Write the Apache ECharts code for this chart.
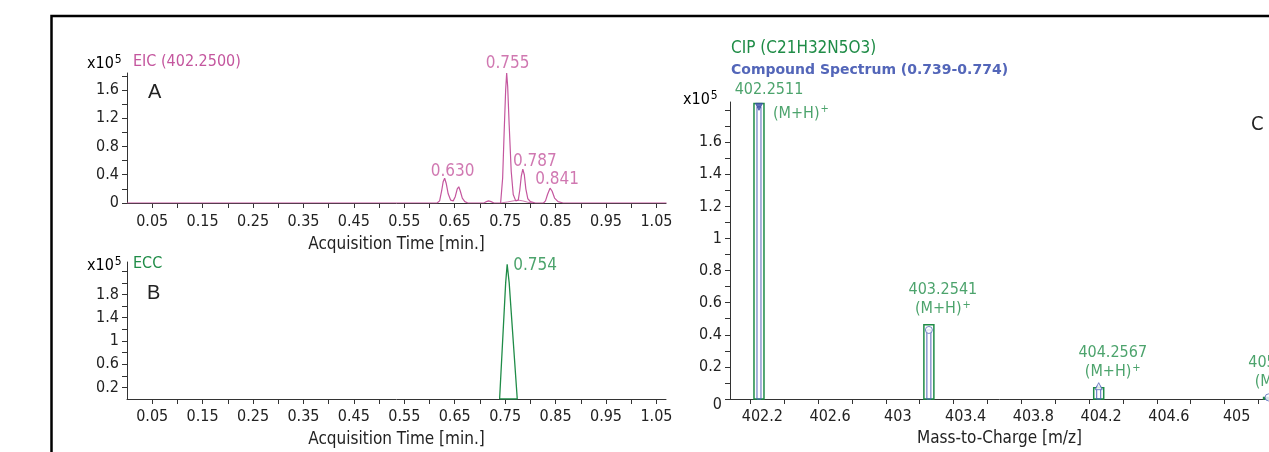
<!DOCTYPE html>
<html>
<head>
<meta charset="utf-8">
<title>EIC / ECC / compound spectrum</title>
<script src="https://cdn.jsdelivr.net/npm/echarts@6/dist/echarts.min.js"></script>
<style>
  html, body { margin: 0; padding: 0; background: #fff; }
  #chart { width: 1269px; height: 452px; }
</style>
</head>
<body>
<div id="chart"></div>
<script>
// ---- panel A : EIC (402.2500), counts x10^5
var eicTime = [0, 0.615, 0.620, 0.624, 0.627, 0.630, 0.633, 0.637, 0.642, 0.647, 0.651, 0.655, 0.658, 0.661, 0.665, 0.670, 0.676,
  0.708, 0.713, 0.717, 0.722, 0.728, 0.741, 0.745, 0.748, 0.751, 0.753, 0.755, 0.758, 0.762, 0.766, 0.771,
  0.776, 0.779, 0.782, 0.785, 0.788, 0.791, 0.795, 0.800, 0.810, 0.826, 0.830, 0.834, 0.839, 0.843, 0.848, 0.855, 0.865, 1.07];
var eicCounts = [0, 0, 0.03, 0.17, 0.30, 0.35, 0.28, 0.13, 0.04, 0.03, 0.09, 0.20, 0.23, 0.17, 0.07, 0.02, 0,
  0, 0.02, 0.03, 0.02, 0, 0, 0.35, 1.0, 1.6, 1.84, 1.65, 1.1, 0.45, 0.12, 0.03,
  0.04, 0.18, 0.38, 0.48, 0.40, 0.20, 0.06, 0.02, 0, 0, 0.03, 0.12, 0.21, 0.17, 0.07, 0.02, 0, 0];
// low broad trace under the 0.787 peak
var humpTime = [0.741, 0.755, 0.770, 0.777, 0.785, 0.795, 0.805];
var humpCounts = [0, 0.015, 0.035, 0.04, 0.03, 0.01, 0];
var eicPeakTime = [0.630, 0.753, 0.785, 0.839];
var eicPeakCounts = [0.35, 1.84, 0.48, 0.21];
var eicPeakText = ['0.630', '0.755', '0.787', '0.841'];

// ---- panel B : ECC
var eccTime = [0.739, 0.751, 0.754, 0.758, 0.774, 0.739];
var eccCounts = [0, 2.0, 2.32, 2.0, 0, 0];
var eccPeakText = '0.754';

// ---- panel C : CIP (theoretical) vs compound spectrum
var cipMz = [402.2511, 403.2541, 404.2567, 405.2595];
var cipAbund = [1.84, 0.463, 0.07, 0.01];
var specAbund = [1.82, 0.43, 0.08, 0.01];
var cipMassText = ['402.2511', '403.2541', '404.2567', '405.2595'];

// ---- ticks / labels
var timeTicks = [0.05, 0.1, 0.15, 0.2, 0.25, 0.3, 0.35, 0.4, 0.45, 0.5, 0.55, 0.6, 0.65, 0.7, 0.75, 0.8, 0.85, 0.9, 0.95, 1, 1.05];
var timeLabels = [0.05, 0.15, 0.25, 0.35, 0.45, 0.55, 0.65, 0.75, 0.85, 0.95, 1.05];
var eicTicks = [0, 0.2, 0.4, 0.6, 0.8, 1, 1.2, 1.4, 1.6, 1.8];
var eicLabels = [0, 0.4, 0.8, 1.2, 1.6];
var eccTicks = [0.2, 0.4, 0.6, 0.8, 1, 1.2, 1.4, 1.6, 1.8, 2, 2.2];
var eccLabels = [0.2, 0.6, 1, 1.4, 1.8];
var mzTicks = [402.2, 402.4, 402.6, 402.8, 403, 403.2, 403.4, 403.6, 403.8, 404, 404.2, 404.4, 404.6, 404.8, 405, 405.2];
var mzLabels = [402.2, 402.6, 403, 403.4, 403.8, 404.2, 404.6, 405];
var abTicks = [0, 0.1, 0.2, 0.3, 0.4, 0.5, 0.6, 0.7, 0.8, 0.9, 1, 1.1, 1.2, 1.3, 1.4, 1.5, 1.6, 1.7, 1.8];
var abLabels = [0, 0.2, 0.4, 0.6, 0.8, 1, 1.2, 1.4, 1.6];

var FONT = '"DejaVu Sans Condensed", "Liberation Sans Narrow", sans-serif';
var PINK = '#c4569e', GREEN = '#1f8c47', BLUE = '#5366b9', AXIS = '#333';

function zip(a, b) { return a.map(function (v, i) { return [v, b[i]]; }); }

function xAxis(grid, min, max, ticks, labels, name, opts) {
  opts = opts || {};
  return {
    type: 'value', gridIndex: grid, min: min, max: max,
    name: name, nameLocation: 'middle', nameGap: opts.nameGap || 36,
    nameTextStyle: { fontFamily: FONT, fontSize: 17, color: '#222' },
    axisLine: { lineStyle: { color: AXIS, width: 1 } },
    axisTick: { customValues: ticks, length: 5, lineStyle: { color: AXIS } },
    axisLabel: { customValues: labels, fontFamily: FONT, fontSize: 16, color: '#222', margin: opts.margin || 10,
      padding: opts.labelPad || 0, formatter: function (v) { return String(v); } },
    splitLine: { show: false }
  };
}
function yAxis(grid, max, ticks, labels, zeroDown) {
  return {
    type: 'value', gridIndex: grid, min: 0, max: max,
    axisLine: { show: true, lineStyle: { color: AXIS, width: 1 } },
    axisTick: { show: true, customValues: ticks, length: 5, lineStyle: { color: AXIS } },
    axisLabel: { customValues: labels, fontFamily: FONT, fontSize: 16, color: '#222', margin: 8,
      formatter: function (v) { return (zeroDown && v === 0) ? '{z|0}' : String(v); },
      rich: { z: { fontFamily: FONT, fontSize: 16, color: '#222', padding: [12, 0, 0, 0] } } },
    splitLine: { show: false }
  };
}

function x105(x, y) {
  return { type: 'text', left: x, top: y, style: { text: '{b|x10}{s|5}', rich: {
    b: { fontFamily: FONT, fontSize: 16, color: '#222' },
    s: { fontFamily: FONT, fontSize: 12, color: '#222', padding: [0, 0, 7, 1] } } } };
}
function txt(x, y, s, color, size, extra) {
  var st = { text: s, fill: color, fontFamily: FONT, fontSize: size };
  for (var k in (extra || {})) st[k] = extra[k];
  return { type: 'text', left: x, top: y, style: st };
}

var supRich = {
  m: { fontFamily: FONT, fontSize: 16, color: GREEN, lineHeight: 19 },
  s: { fontFamily: FONT, fontSize: 11, color: GREEN, padding: [0, 0, 8, 1] }
};

var cipLabelData = cipMz.map(function (m, i) {
  var item = { value: [m, cipAbund[i]] };
  if (cipAbund[i] > 1) {
    item.label = { position: 'top', offset: [10, 1], formatter: '{m|' + cipMassText[i] + '}' };
  } else {
    item.label = { position: 'top', offset: [14, -1], formatter: '{m|' + cipMassText[i] + '}\n{m|(M+H)}{s|+}' };
  }
  return item;
});
var adductRight = cipMz.filter(function (m, i) { return cipAbund[i] > 1; }).map(function (m, i) {
  return [m, cipAbund[i]];
});

var markerSymbols = ['triangle', 'circle', 'triangle', 'circle'];
var specMarkers = cipMz.map(function (m, i) {
  return { value: [m, specAbund[i]], symbol: markerSymbols[i], symbolRotate: i === 0 ? 180 : 0,
    itemStyle: i === 0 ? { color: '#3d50a8', borderColor: '#3d50a8' } : { color: '#fff', borderColor: BLUE, borderWidth: 1 } };
});

var chart = echarts.init(document.getElementById('chart'), null, { renderer: 'canvas' });
chart.setOption({
  animation: false,
  backgroundColor: '#fff',
  grid: [
    { left: 127, top: 73, width: 539, height: 130 },
    { left: 127, top: 262, width: 539, height: 137 },
    { left: 730, top: 102, width: 539, height: 300 }
  ],
  xAxis: [
    xAxis(0, 0, 1.069, timeTicks, timeLabels, 'Acquisition Time [min.]', { nameGap: 33, margin: 11 }),
    xAxis(1, 0, 1.069, timeTicks, timeLabels, 'Acquisition Time [min.]', { nameGap: 32, margin: 10 }),
    xAxis(2, 402.08, 405.262, mzTicks, mzLabels, 'Mass-to-Charge [m/z]', { nameGap: 31, margin: 10, labelPad: [0, 0, 0, 24] })
  ],
  yAxis: [
    yAxis(0, 1.84, eicTicks, eicLabels),
    yAxis(1, 2.36, eccTicks, eccLabels),
    yAxis(2, 1.85, abTicks, abLabels, true)
  ],
  graphic: [
    { type: 'rect', shape: { x: 51.5, y: 16, width: 1400, height: 600 }, style: { fill: 'none', stroke: '#000', lineWidth: 2.5 } },
    x105(87, 54),
    txt(133, 54, 'EIC (402.2500)', PINK, 16),
    txt(148, 82, 'A', '#222', 20, { fontFamily: 'Liberation Sans, Arial, sans-serif' }),
    x105(87, 256),
    txt(133, 256, 'ECC', GREEN, 16),
    txt(147, 283, 'B', '#222', 20, { fontFamily: 'Liberation Sans, Arial, sans-serif' }),
    x105(683, 90),
    txt(731, 40, 'CIP (C21H32N5O3)', GREEN, 17),
    txt(731, 63, 'Compound Spectrum (0.739-0.774)', BLUE, 14, { fontFamily: '"DejaVu Sans", sans-serif', fontWeight: 'bold' }),
    txt(1251, 115, 'C', '#222', 20, { fontFamily: FONT })
  ],
  series: [
    { type: 'line', xAxisIndex: 0, yAxisIndex: 0, data: zip(eicTime, eicCounts), symbol: 'none',
      lineStyle: { color: PINK, width: 1.2 }, z: 3 },
    { type: 'line', xAxisIndex: 0, yAxisIndex: 0, data: zip(humpTime, humpCounts), symbol: 'none',
      lineStyle: { color: PINK, width: 1, opacity: 0.8 } },
    { type: 'scatter', xAxisIndex: 0, yAxisIndex: 0, symbolSize: 0,
      data: eicPeakTime.map(function (t, i) {
        var offs = [[8, 5], [1, 2], [12, 4], [7, 3]];
        return { value: [t, eicPeakCounts[i]], name: eicPeakText[i], label: { offset: offs[i] } };
      }),
      label: { show: true, position: 'top', distance: 3, formatter: '{b}', fontFamily: FONT, fontSize: 17, color: PINK } },

    { type: 'line', xAxisIndex: 1, yAxisIndex: 1, data: zip(eccTime, eccCounts), symbol: 'none',
      lineStyle: { color: GREEN, width: 1.3 } },
    { type: 'scatter', xAxisIndex: 1, yAxisIndex: 1, symbolSize: 0,
      data: [{ value: [eccTime[2], eccCounts[2]], name: eccPeakText }],
      label: { show: true, position: 'right', distance: 6, offset: [0, 1], formatter: '{b}', fontFamily: FONT, fontSize: 17, color: GREEN } },

    { type: 'custom', xAxisIndex: 2, yAxisIndex: 2, data: zip(cipMz, cipAbund), encode: { x: 0, y: 1 },
      renderItem: function (params, api) {
        var top = api.coord([api.value(0), api.value(1)]);
        var base = api.coord([api.value(0), 0]);
        return { type: 'rect', shape: { x: top[0] - 5, y: top[1], width: 10, height: Math.max(base[1] - top[1], 1) },
          style: { fill: 'none', stroke: GREEN, lineWidth: 1.5 } };
      } },
    { type: 'custom', xAxisIndex: 2, yAxisIndex: 2, data: zip(cipMz, specAbund), encode: { x: 0, y: 1 },
      renderItem: function (params, api) {
        var top = api.coord([api.value(0), api.value(1)]);
        var base = api.coord([api.value(0), 0]);
        return { type: 'rect', shape: { x: top[0] - 2, y: top[1], width: 4, height: Math.max(base[1] - top[1], 1) },
          style: { fill: 'none', stroke: BLUE, lineWidth: 1 } };
      } },
    { type: 'scatter', xAxisIndex: 2, yAxisIndex: 2, symbolSize: 7, data: specMarkers, z: 4 },
    { type: 'scatter', xAxisIndex: 2, yAxisIndex: 2, symbolSize: 0, data: cipLabelData,
      label: { show: true, rich: supRich, align: 'center' } },
    { type: 'scatter', xAxisIndex: 2, yAxisIndex: 2, symbolSize: 0, data: adductRight,
      label: { show: true, position: 'right', distance: 14, offset: [0, 10], formatter: '{m|(M+H)}{s|+}', rich: supRich } }
  ]
});
</script>
</body>
</html>
